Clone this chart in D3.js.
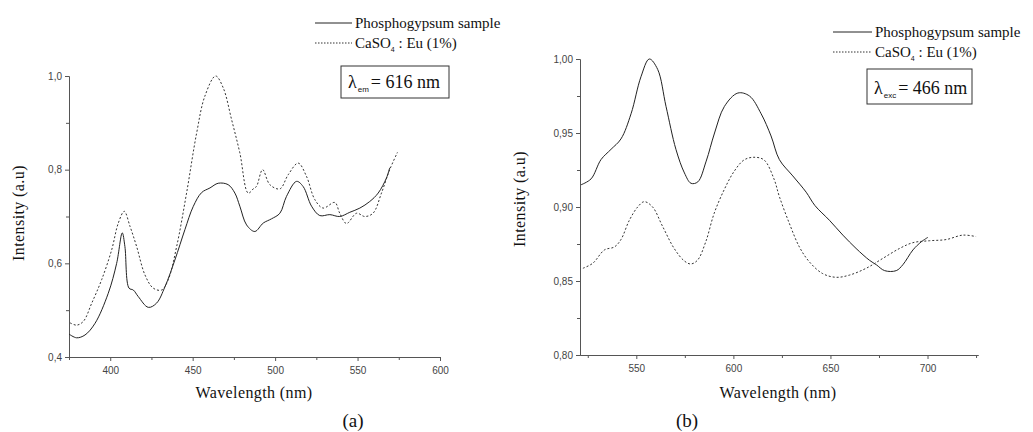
<!DOCTYPE html>
<html>
<head>
<meta charset="utf-8">
<script src="https://cdn.jsdelivr.net/npm/d3@7"></script>
<style>
  body { margin: 0; background: #fff; }
  svg { display: block; }
  .tick text { font-family: "Liberation Sans", Arial, sans-serif; font-size: 10px; fill: #444; }
  .axis path, .axis line { stroke: #555; }
  .serif { font-family: "Liberation Serif", "Times New Roman", Times, serif; fill: #111; }
</style>
</head>
<body>
<svg id="chart" width="1033" height="432"></svg>
<script>
// ---- data ----
// panel (a): excitation spectra, lambda_em = 616 nm
var phosphoA = [[375,0.449],[379.6,0.441],[384.7,0.447],[390.8,0.472],[398.8,0.536],[403.9,0.600],[407.3,0.665],
  [408.9,0.636],[411.4,0.547],[414,0.543],[417,0.529],[423.1,0.506],[428.1,0.515],[433.2,0.550],[439.2,0.607],
  [445.3,0.672],[450.3,0.721],[455.4,0.751],[460.5,0.761],[465.5,0.771],[471.5,0.768],[475.6,0.750],[478.6,0.722],
  [482.7,0.682],[487.7,0.668],[492.8,0.686],[497.8,0.695],[502.9,0.707],[506.9,0.743],[513,0.775],[517,0.764],
  [522.1,0.722],[527.1,0.702],[533.2,0.704],[539.2,0.700],[545.3,0.709],[551.4,0.718],[557.4,0.732],[562.5,0.750],
  [567.5,0.782],[569.5,0.804]]
var caso4A = [[375.6,0.473],[379.6,0.468],[383.7,0.476],[388.8,0.515],[394.8,0.565],[400.9,0.629],[404.9,0.686],
  [408.5,0.711],[412,0.679],[416,0.636],[421.1,0.575],[426.1,0.547],[431.2,0.543],[435.2,0.565],[440.3,0.636],
  [446.3,0.750],[452.4,0.878],[457.4,0.957],[463.9,1.000],[468.5,0.975],[473.6,0.907],[478.6,0.836],[483.7,0.750],
  [487.3,0.761],[488.7,0.764],[492.4,0.800],[496.8,0.768],[502.9,0.759],[507.9,0.789],[514,0.814],[519,0.786],
  [524.1,0.736],[529.1,0.718],[536.2,0.730],[539.2,0.707],[543.3,0.685],[549.4,0.707],[554.4,0.700],[559.4,0.707],
  [564.5,0.750],[569.5,0.800],[574.2,0.837]]

// panel (b): emission spectra, lambda_exc = 466 nm
var phosphoB = [[521.5,0.915],[526.7,0.919],[531.8,0.932],[537,0.939],[542.1,0.946],[547.3,0.963],[552.4,0.988],
  [556.7,1.000],[561,0.993],[565.3,0.968],[570.4,0.939],[574.8,0.923],[578.2,0.916],[581.7,0.917],[586,0.931],
  [590.3,0.950],[595.4,0.968],[602.3,0.977],[608.3,0.975],[614.3,0.963],[619.4,0.948],[623.7,0.932],[630.6,0.921],
  [637.5,0.910],[642,0.901],[649.5,0.891],[656.4,0.881],[663.2,0.872],[670.1,0.864],[673.6,0.861],[677.9,0.857],
  [683.9,0.857],[687.3,0.861],[692.5,0.871],[696.8,0.8765],[700.2,0.8795]]
var caso4B = [[522.5,0.8586],[527.6,0.862],[533.6,0.871],[538.7,0.873],[542.1,0.878],[546.4,0.891],[550.7,0.900],
  [554.1,0.9036],[558.4,0.900],[563.5,0.887],[569.5,0.872],[574.6,0.8637],[578,0.8615],[581.5,0.864],[585.8,0.8766],
  [590.1,0.8957],[595.2,0.9115],[600.3,0.9239],[605.5,0.9318],[610.6,0.9336],[615.8,0.9318],[620.9,0.919],
  [623.7,0.907],[628.8,0.889],[634,0.873],[639.1,0.863],[646,0.855],[652.9,0.8525],[659.8,0.854],[668.4,0.8586],
  [677,0.8653],[685.6,0.872],[692.5,0.8759],[701,0.8772],[709.6,0.878],[718.2,0.881],[725,0.880]]

var xTicksA = [400, 450, 500, 550, 600], xMinorA = [375, 425, 475, 525, 575]
var yTicksA = [0.4, 0.6, 0.8, 1.0], yMinorA = [0.5, 0.7, 0.9]
var xTicksB = [550, 600, 650, 700], xMinorB = [525, 575, 625, 675, 725]
var yTicksB = [0.80, 0.85, 0.90, 0.95, 1.00], yMinorB = [0.825, 0.875, 0.925, 0.975]
var seriesNames = ["Phosphogypsum sample", "CaSO4 : Eu (1%)"]

// comma as decimal separator
var loc = d3.formatLocale({ decimal: ",", thousands: ".", grouping: [3], currency: ["", ""] })

var svg = d3.select("#chart")

function drawPanel(p) {
    var x = d3.scaleLinear().domain(p.xDomain).range(p.xRange)
    var y = d3.scaleLinear().domain(p.yDomain).range(p.yRange)
    var g = svg.append("g")

    // minor ticks first, then the labelled axis over them
    g.append("g").attr("class", "axis")
        .attr("transform", `translate(0,${p.yRange[0]})`)
        .call(d3.axisBottom(x).tickValues(p.xMinor).tickSize(3).tickSizeOuter(0).tickFormat(""))
    g.append("g").attr("class", "axis")
        .attr("transform", `translate(${p.xRange[0]},0)`)
        .call(d3.axisLeft(y).tickValues(p.yMinor).tickSize(3).tickSizeOuter(0).tickFormat(""))

    g.append("g").attr("class", "axis")
        .attr("transform", `translate(0,${p.yRange[0]})`)
        .call(d3.axisBottom(x).tickValues(p.xTicks).tickSize(4).tickPadding(6).tickSizeOuter(0))
    g.append("g").attr("class", "axis")
        .attr("transform", `translate(${p.xRange[0]},0)`)
        .call(d3.axisLeft(y).tickValues(p.yTicks).tickSize(4).tickPadding(3).tickSizeOuter(0)
            .tickFormat(loc.format(p.fmt)))

    var line = d3.line()
        .x(d => x(d[0]))
        .y(d => y(d[1]))
        .curve(d3.curveCatmullRom.alpha(0.5))

    g.append("path").datum(p.solid)
        .attr("fill", "none").attr("stroke", "#222").attr("stroke-width", 1)
        .attr("d", line)
    g.append("path").datum(p.dotted)
        .attr("fill", "none").attr("stroke", "#333").attr("stroke-width", 1)
        .attr("stroke-dasharray", "2,2")
        .attr("d", line)

    // axis titles
    g.append("text").attr("class", "serif")
        .attr("x", p.xTitleX).attr("y", 398)
        .attr("text-anchor", "middle").attr("font-size", 16).attr("letter-spacing", 0.4)
        .text("Wavelength (nm)")
    g.append("text").attr("class", "serif")
        .attr("transform", `translate(${p.yTitleX},${p.yTitleY}) rotate(-90)`)
        .attr("text-anchor", "middle").attr("font-size", 16).attr("letter-spacing", 0.4)
        .text("Intensity (a.u)")
    g.append("text").attr("class", "serif")
        .attr("x", p.capX).attr("y", 427)
        .attr("text-anchor", "middle").attr("font-size", 19)
        .text(p.caption)

    // legend
    var lg = g.append("g").attr("transform", `translate(${p.legX},${p.legY})`)
    lg.append("line").attr("x1", 0).attr("x2", p.legLen).attr("y1", 0).attr("y2", 0)
        .attr("stroke", "#222")
    lg.append("line").attr("x1", 0).attr("x2", p.legLen).attr("y1", 20).attr("y2", 20)
        .attr("stroke", "#333").attr("stroke-dasharray", "1.5,1.5")
    var t1 = lg.append("text").attr("class", "serif").attr("font-size", 15)
        .attr("x", p.legLen + 3).attr("y", 5).text(seriesNames[0])
    // keep the first legend entry inside its target width (shrink if the font runs wide)
    var fs = 15
    while (t1.node().getComputedTextLength() > p.legW && fs > 9) {
        fs -= 0.5
        t1.attr("font-size", fs)
    }
    var t2 = lg.append("text").attr("class", "serif").attr("font-size", fs)
        .attr("x", p.legLen + 3).attr("y", 25)
    t2.append("tspan").text("CaSO")
    t2.append("tspan").attr("font-size", 7).attr("dy", 4)
        .attr("font-family", "Liberation Sans, Arial, sans-serif").text("4")
    t2.append("tspan").attr("dy", -4).text(" : Eu (1%)")

    // excitation / emission box
    var bx = g.append("g").attr("transform", `translate(${p.box[0]},${p.box[1]})`)
    bx.append("rect").attr("width", p.box[2]).attr("height", p.box[3])
        .attr("fill", "#fff").attr("stroke", "#333").attr("stroke-width", 1)
    var bt = bx.append("text").attr("class", "serif").attr("font-size", 18)
        .attr("x", 7).attr("y", p.box[3] - 10)
    bt.append("tspan").text("\u03bb")
    bt.append("tspan").attr("font-size", 8).attr("dy", 4).attr("dx", 1)
        .attr("font-family", "Liberation Sans, Arial, sans-serif").text(p.sub)
    bt.append("tspan").attr("dy", -4).attr("dx", 2).text("= " + p.lambda + " nm")
}

drawPanel({
    xDomain: [375, 600], xRange: [69, 440],
    yDomain: [0.4, 1.0], yRange: [357, 76],
    xTicks: xTicksA, xMinor: xMinorA, yTicks: yTicksA, yMinor: yMinorA, fmt: ".1f",
    solid: phosphoA, dotted: caso4A,
    xTitleX: 254, yTitleX: 24, yTitleY: 213, capX: 353, caption: "(a)",
    legX: 315, legY: 23, legLen: 37, legW: 150,
    box: [341, 66, 108, 32], sub: "em", lambda: 616
})

drawPanel({
    xDomain: [521, 726], xRange: [580, 978],
    yDomain: [0.80, 1.00], yRange: [355, 59],
    xTicks: xTicksB, xMinor: xMinorB, yTicks: yTicksB, yMinor: yMinorB, fmt: ".2f",
    solid: phosphoB, dotted: caso4B,
    xTitleX: 778, yTitleX: 525, yTitleY: 199, capX: 687, caption: "(b)",
    legX: 833, legY: 32, legLen: 39, legW: 152,
    box: [867, 69, 105, 35], sub: "exc", lambda: 466
})
</script>
</body>
</html>
